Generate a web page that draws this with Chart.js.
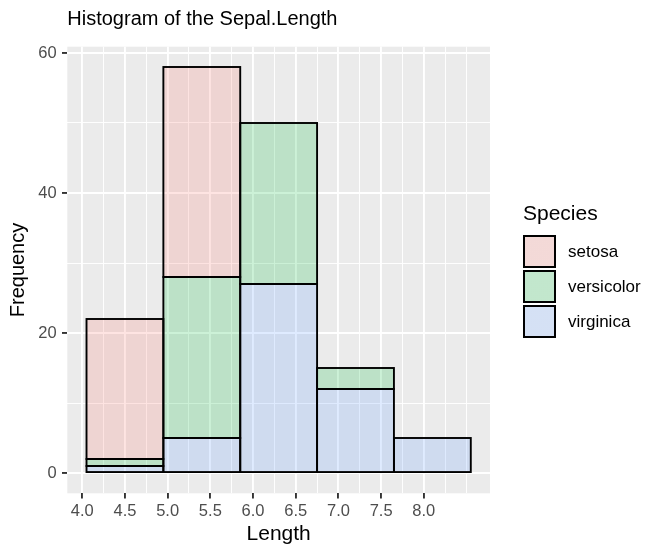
<!DOCTYPE html>
<html>
<head>
<meta charset="utf-8">
<script src="https://cdn.jsdelivr.net/npm/chart.js@4.4.0/dist/chart.umd.min.js"></script>
<style>
  html, body { margin: 0; padding: 0; background: #fff; }
  #wrap { position: relative; width: 666px; height: 558px; font-family: "Liberation Sans", Arial, sans-serif; }
  #myChart { position: absolute; left: 0; top: 0; }
  .legend-title { position: absolute; left: 523px; top: 201px; font-size: 21px; line-height: 23px; color: #000; }
  .key-row { position: absolute; left: 523px; height: 33px; display: flex; align-items: center; }
  .key { width: 33px; height: 33px; box-sizing: border-box; border: 2px solid #000; }
  .key-label { margin-left: 12px; font-size: 17px; color: #000; }
</style>
</head>
<body>
<div id="wrap">
  <canvas id="myChart" width="666" height="558"></canvas>
  <div id="legend"></div>
</div>
<script>
// histogram bins (bin width 0.9) and counts per species
const binCenters = [4.5, 5.4, 6.3, 7.2, 8.1];
const setosaCounts = [20, 30, 0, 0, 0];
const versicolorCounts = [1, 23, 23, 3, 0];
const virginicaCounts = [1, 5, 27, 12, 5];

const speciesNames = ['setosa', 'versicolor', 'virginica'];
const speciesColors = ['248,118,109', '0,186,56', '97,156,255'];

const xLabelTicks = [4.0, 4.5, 5.0, 5.5, 6.0, 6.5, 7.0, 7.5, 8.0];
const xMinorTicks = [4.25, 4.75, 5.25, 5.75, 6.25, 6.75, 7.25, 7.75, 8.25, 8.5];
const yLabelTicks = [0, 20, 40, 60];
const yMinorTicks = [10, 30, 50];

const xRange = [3.825, 8.775];
const yRange = [-2.9, 60.9];

const fontFamily = '"Liberation Sans", Arial, sans-serif';
Chart.defaults.font.family = fontFamily;

const isIn = (list, v) => list.some(t => Math.abs(t - v) < 1e-9);

const fillOf = (i) => 'rgba(' + speciesColors[i] + ',0.2)';

// ggplot stacks setosa on top, so draw virginica first
const countsBySpecies = [setosaCounts, versicolorCounts, virginicaCounts];
const datasets = [2, 1, 0].map(i => ({
  label: speciesNames[i],
  data: binCenters.map((c, k) => ({x: c, y: countsBySpecies[i][k]})),
  backgroundColor: fillOf(i),
  borderWidth: 0,
  xAxisID: 'xBins',
  yAxisID: 'y',
  categoryPercentage: 1,
  barPercentage: 1
}));

const panelPlugin = {
  id: 'panel',
  beforeDraw(chart) {
    const {ctx, chartArea: a} = chart;
    ctx.save();
    ctx.fillStyle = '#EBEBEB';
    ctx.fillRect(a.left, a.top, a.right - a.left, a.bottom - a.top);
    ctx.restore();
  },
  afterDatasetsDraw(chart) {
    const ctx = chart.ctx;
    ctx.save();
    ctx.lineWidth = 1.9;
    ctx.strokeStyle = '#000';
    chart.data.datasets.forEach((ds, di) => {
      const meta = chart.getDatasetMeta(di);
      meta.data.forEach((bar, k) => {
        if (!ds.data[k].y) return;
        const p = bar.getProps(['x', 'y', 'base', 'width'], true);
        ctx.strokeRect(p.x - p.width / 2, p.y, p.width, p.base - p.y);
      });
    });
    ctx.restore();
  }
};

const ctx = document.getElementById('myChart').getContext('2d');
const myChart = new Chart(ctx, {
  type: 'bar',
  data: { datasets: datasets },
  options: {
    responsive: false,
    animation: false,
    devicePixelRatio: 1,
    layout: { padding: { left: 0, right: 176, top: 0, bottom: 0 } },
    plugins: {
      legend: { display: false },
      tooltip: { enabled: false },
      title: {
        display: true,
        text: 'Histogram of the Sepal.Length',
        align: 'start',
        fullSize: false,
        color: '#000',
        font: { size: 20, weight: 'normal' },
        padding: { top: 7.8, bottom: 14.9 }
      }
    },
    scales: {
      xBins: {
        type: 'linear',
        display: false,
        min: xRange[0],
        max: xRange[1],
        offset: false,
        stacked: true,
        afterBuildTicks: (scale) => { scale.ticks = binCenters.map(v => ({value: v})); }
      },
      x: {
        type: 'linear',
        position: 'bottom',
        min: xRange[0],
        max: xRange[1],
        offset: false,
        border: { display: false },
        afterBuildTicks: (scale) => {
          scale.ticks = xLabelTicks.concat(xMinorTicks).sort((a, b) => a - b).map(v => ({value: v}));
        },
        afterFit: (scale) => { scale.height = 64.7; },
        grid: {
          offset: false,
          color: '#FFFFFF',
          lineWidth: (c) => isIn(xLabelTicks, c.tick.value) ? 1.9 : 0.95,
          tickColor: (c) => isIn(xLabelTicks, c.tick.value) ? '#333333' : 'rgba(0,0,0,0)',
          tickWidth: 1.9,
          tickLength: 5.2
        },
        ticks: {
          autoSkip: false,
          maxRotation: 0,
          padding: 3.3,
          color: '#4D4D4D',
          font: { size: 16.5 },
          callback: (v) => isIn(xLabelTicks, v) ? Number(v).toFixed(1) : ''
        },
        title: {
          display: true,
          text: 'Length',
          color: '#000',
          font: { size: 21 },
          padding: { top: 0, bottom: 11 }
        }
      },
      y: {
        type: 'linear',
        position: 'left',
        min: yRange[0],
        max: yRange[1],
        stacked: true,
        border: { display: false },
        afterBuildTicks: (scale) => {
          scale.ticks = yLabelTicks.concat(yMinorTicks).sort((a, b) => a - b).map(v => ({value: v}));
        },
        afterFit: (scale) => { scale.width = 67.3; },
        grid: {
          color: '#FFFFFF',
          lineWidth: (c) => isIn(yLabelTicks, c.tick.value) ? 1.9 : 0.95,
          tickColor: (c) => isIn(yLabelTicks, c.tick.value) ? '#333333' : 'rgba(0,0,0,0)',
          tickWidth: 1.9,
          tickLength: 5.3
        },
        ticks: {
          autoSkip: false,
          padding: 5.3,
          color: '#4D4D4D',
          font: { size: 16.5 },
          callback: (v) => isIn(yLabelTicks, v) ? String(v) : ''
        },
        title: {
          display: true,
          text: 'Frequency',
          color: '#000',
          font: { size: 20 },
          padding: { top: 6.4, bottom: 0 }
        }
      }
    }
  },
  plugins: [panelPlugin]
});

// legend, ggplot style
const legend = document.getElementById('legend');
const keyTops = [235, 270, 305];
let html = '<div class="legend-title">Species</div>';
speciesNames.forEach((name, i) => {
  html += '<div class="key-row" style="top:' + keyTops[i] + 'px">' +
    '<div class="key" style="background: linear-gradient(' + fillOf(i) + ',' + fillOf(i) + '), #F2F2F2"></div>' +
    '<span class="key-label">' + name + '</span></div>';
});
legend.innerHTML = html;
</script>
</body>
</html>
